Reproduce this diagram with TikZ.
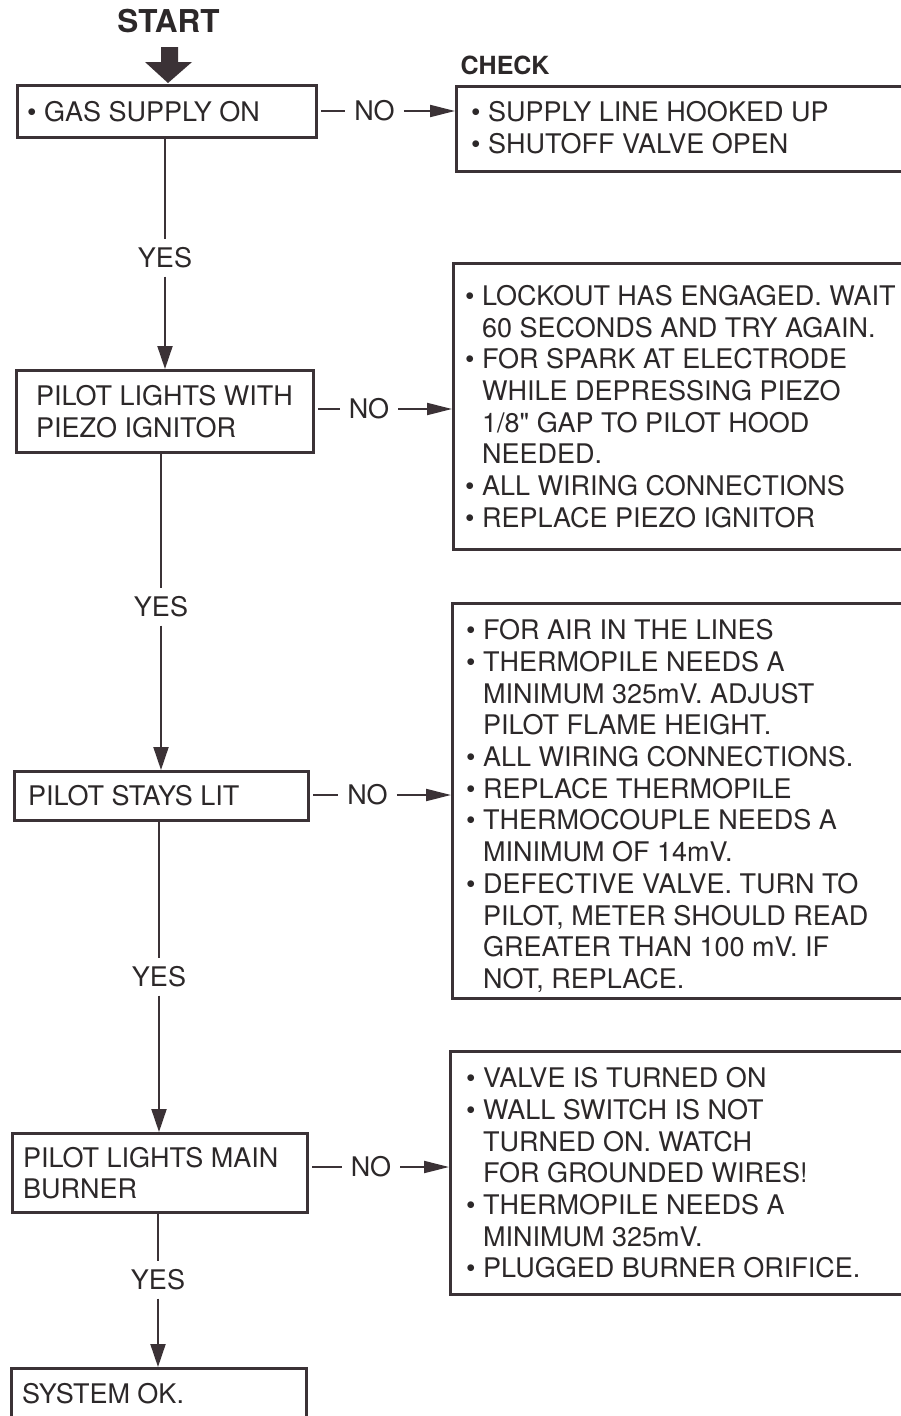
\documentclass[tikz,border=0pt]{standalone}
\usepackage{fontspec}
\setmainfont{TeX Gyre Heros}[Ligatures=TeXOff]
\usetikzlibrary{arrows.meta,calc}
\definecolor{ink}{HTML}{3B3236}
\definecolor{txt}{HTML}{2C2829}
\begin{document}
\begin{tikzpicture}[x=1pt,y=-1pt,
  every node/.style={text=txt, font=\fontsize{27}{31.7}\selectfont},
  box/.style={draw=ink, line width=3pt, anchor=north west, inner sep=0pt},
  body/.style={anchor=west, align=left, inner sep=0pt},
  yeslbl/.style={inner xsep=0pt, inner ysep=8pt},
  nolbl/.style={inner xsep=9pt, inner ysep=2pt},
  conn/.style={draw=ink, line width=2pt},
  varrow/.style={conn, -{Triangle[length=23pt,width=15pt]}},
  harrow/.style={conn, -{Triangle[length=25pt,width=12pt]}},
  headline/.style={font=\bfseries\fontsize{31.5}{36}\selectfont},
  checklbl/.style={font=\bfseries\fontsize{25}{30}\selectfont}
]
\useasboundingbox (0,0) rectangle (901,1416);
\fill[white] (0,0) rectangle (901,1416);
\clip (0,0) rectangle (901,1416);

% title and start arrow
\node[headline, anchor=base] (start) at (168.5,32) {START};
\fill[ink] (161,47) -- (178,47) -- (178,62) -- (192,62) -- (168,83) -- (145,62) -- (161,62) -- cycle;
\node[checklbl, anchor=base west] (check) at (457,74) {CHECK};

% left boxes
\node[box, minimum width=299pt, minimum height=52pt] (b1) at (16,84) {};
\node[box, minimum width=297pt, minimum height=82pt] (b2) at (15,369) {};
\node[box, minimum width=294pt, minimum height=49pt] (b3) at (13,770) {};
\node[box, minimum width=295pt, minimum height=79pt] (b4) at (11,1132) {};
\node[box, minimum width=295pt, minimum height=50pt] (b5) at (10,1367) {};

\node[body] (t1) at ($(b1.west)+(11,0)$) {• GAS SUPPLY ON};
\node[body] (t2) at ($(b2.west)+(21,0)$) {PILOT LIGHTS WITH\\PIEZO IGNITOR};
\node[body] (t3) at ($(b3.west)+(15,0)$) {PILOT STAYS LIT};
\node[body] (t4) at ($(b4.west)+(12,0)$) {PILOT LIGHTS MAIN\\BURNER};
\node[body] (t5) at ($(b5.west)+(12,0)$) {SYSTEM OK.};

% right boxes
\node[box, minimum width=480pt, minimum height=85pt] (c1) at (455,85) {};
\node[box, minimum width=480pt, minimum height=286pt] (c2) at (452,262) {};
\node[box, minimum width=480pt, minimum height=395pt] (c3) at (451,602) {};
\node[box, minimum width=480pt, minimum height=243pt] (c4) at (449,1050) {};

\node[body] (r1) at ($(c1.west)+(16,-1)$) {• SUPPLY LINE HOOKED UP\\• SHUTOFF VALVE OPEN};
\node[body] (r2) at ($(c2.west)+(13,0)$) {• LOCKOUT HAS ENGAGED. WAIT\\
\phantom{• }60 SECONDS AND TRY AGAIN.\\
• FOR SPARK AT ELECTRODE\\
\phantom{• }WHILE DEPRESSING PIEZO\\
\phantom{• }1/8" GAP TO PILOT HOOD\\
\phantom{• }NEEDED.\\
• ALL WIRING CONNECTIONS\\
• REPLACE PIEZO IGNITOR};
\node[body] (r3) at ($(c3.west)+(15,5)$) {• FOR AIR IN THE LINES\\
• THERMOPILE NEEDS A\\
\phantom{• }MINIMUM 325mV. ADJUST\\
\phantom{• }PILOT FLAME HEIGHT.\\
• ALL WIRING CONNECTIONS.\\
• REPLACE THERMOPILE\\
• THERMOCOUPLE NEEDS A\\
\phantom{• }MINIMUM OF 14mV.\\
• DEFECTIVE VALVE. TURN TO\\
\phantom{• }PILOT, METER SHOULD READ\\
\phantom{• }GREATER THAN 100 mV. IF\\
\phantom{• }NOT, REPLACE.};
\node[body] (r4) at ($(c4.west)+(17,0)$) {• VALVE IS TURNED ON\\
• WALL SWITCH IS NOT\\
\phantom{• }TURNED ON. WATCH\\
\phantom{• }FOR GROUNDED WIRES!\\
• THERMOPILE NEEDS A\\
\phantom{• }MINIMUM 325mV.\\
• PLUGGED BURNER ORIFICE.};

% YES labels
\node[yeslbl] (y1) at (165,258) {YES};
\node[yeslbl] (y2) at (161,607) {YES};
\node[yeslbl] (y3) at (159,977) {YES};
\node[yeslbl] (y4) at (158,1280) {YES};

% NO labels
\node[nolbl] (n1) at (374.5,111) {NO};
\node[nolbl] (n2) at (369,409) {NO};
\node[nolbl] (n3) at (367.5,795) {NO};
\node[nolbl] (n4) at (371,1167) {NO};

% vertical connectors
\draw[conn] (b1.south -| y1) -- (y1.north);
\draw[varrow] (y1.south) -- (y1.south |- b2.north);
\draw[conn] (b2.south -| y2) -- (y2.north);
\draw[varrow] (y2.south) -- (y2.south |- b3.north);
\draw[conn] (b3.south -| y3) -- (y3.north);
\draw[varrow] (y3.south) -- (y3.south |- b4.north);
\draw[conn] (b4.south -| y4) -- (y4.north);
\draw[varrow] (y4.south) -- (y4.south |- b5.north);

% horizontal connectors
\draw[conn, shorten <=3pt] (n1 -| b1.east) -- (n1.west);
\draw[harrow] (n1.east) -- (n1 -| c1.west);
\draw[conn, shorten <=3pt] (n2 -| b2.east) -- (n2.west);
\draw[harrow] (n2.east) -- (n2 -| c2.west);
\draw[conn, shorten <=3pt] (n3 -| b3.east) -- (n3.west);
\draw[harrow] (n3.east) -- (n3 -| c3.west);
\draw[conn, shorten <=3pt] (n4 -| b4.east) -- (n4.west);
\draw[harrow] (n4.east) -- (n4 -| c4.west);
\end{tikzpicture}
\end{document}
